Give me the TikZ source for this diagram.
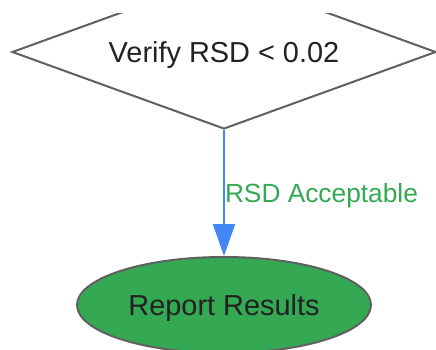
\documentclass[tikz,border=0pt]{standalone}
\usepackage{fontspec}
\setmainfont{Liberation Sans}
\usetikzlibrary{shapes.geometric,arrows.meta}
\definecolor{edgegray}{HTML}{606060}
\definecolor{flowblue}{HTML}{4285F4}
\definecolor{okgreen}{HTML}{34A853}
\definecolor{inkdark}{HTML}{222222}

\begin{document}
\begin{tikzpicture}
  [x=1pt,y=-1pt,every node/.style={draw=edgegray,line width=2pt,text=inkdark,inner sep=0pt,text depth=0pt}]
  \useasboundingbox (0,0) rectangle (436,350);
  \clip (0,14) rectangle (436,350);
  \node[diamond,aspect=2.75,fill=white,minimum width=424pt,minimum height=154pt,
    font=\fontsize{28.9}{34}\selectfont] (nverify) at (224,52) {Verify RSD < 0.02};
  \node[ellipse,fill=okgreen,minimum width=294pt,minimum height=96pt,
    font=\fontsize{28.9}{34}\selectfont] (nreport) at (224,305) {Report Results};
    \draw[flowblue,line width=2pt,-{Triangle[width=22pt,length=32pt]}]
      (nverify.south) -- (nreport.north)
      node[midway,right,draw=none,text=okgreen,font=\fontsize{26.3}{30}\selectfont] {RSD Acceptable};
\end{tikzpicture}
\end{document}
